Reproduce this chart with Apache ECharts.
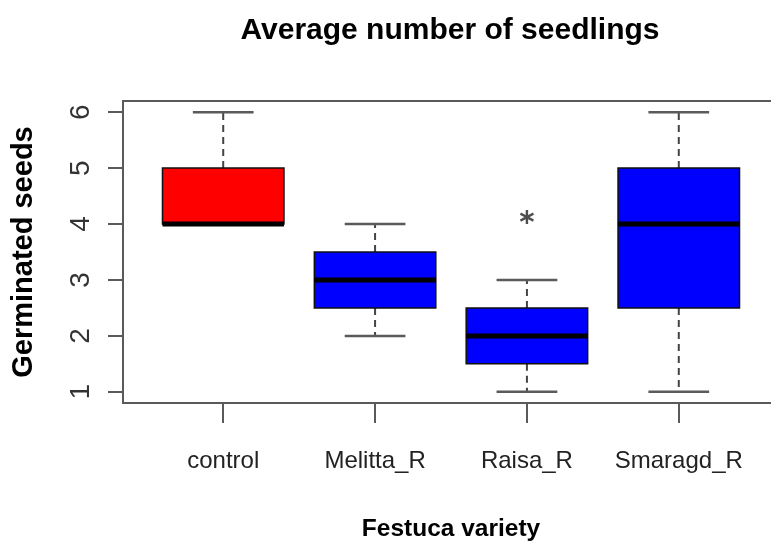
<!DOCTYPE html>
<html>
<head>
<meta charset="utf-8">
<script src="https://cdn.jsdelivr.net/npm/echarts@6/dist/echarts.min.js"></script>
<style>html,body{margin:0;padding:0;background:#fff;}#c{width:771px;height:544px;}</style>
</head>
<body>
<div id="c"></div>
<script>
const categories = ['control', 'Melitta_R', 'Raisa_R', 'Smaragd_R'];
const lowWhisker = [4, 2, 1, 1];
const q1 = [4, 2.5, 1.5, 2.5];
const median = [4, 3, 2, 4];
const q3 = [5, 3.5, 2.5, 5];
const highWhisker = [6, 4, 3, 6];
const outlierCategory = ['Raisa_R'];
const outlierValue = [4];
const yTicks = [1, 2, 3, 4, 5, 6];

const boxFill = ['#ff0000', '#0000ff', '#0000ff', '#0000ff'];
const frameColor = '#5a5a5a';
const regular = "'Liberation Sans', Arial, sans-serif";

const boxData = categories.map((c, i) => [i + 1, lowWhisker[i], q1[i], median[i], q3[i], highWhisker[i]]);
const outData = outlierCategory.map((c, i) => [categories.indexOf(c) + 1, outlierValue[i]]);

const chart = echarts.init(document.getElementById('c'));
chart.setOption({
  animation: false,
  backgroundColor: '#fff',
  title: {
    text: 'Average number of seedlings',
    left: 445, top: 11, textAlign: 'center',
    textStyle: { fontFamily: regular, fontWeight: 'bold', fontSize: 30, color: '#000' }
  },
  grid: {
    left: 123, top: 101, width: 656, height: 302,
    outerBoundsMode: 'none', containLabel: false,
    show: true, borderColor: frameColor, borderWidth: 2, backgroundColor: 'transparent'
  },
  xAxis: {
    type: 'value', min: 0.34, max: 4.66,
    name: 'Festuca variety', nameLocation: 'middle', nameGap: 114,
    nameTextStyle: { fontFamily: regular, fontWeight: 'bold', fontSize: 24.5, color: '#000' },
    axisLine: { show: false },
    splitLine: { show: false },
    axisTick: { show: true, length: 20, lineStyle: { color: frameColor, width: 2 }, customValues: [1, 2, 3, 4] },
    axisLabel: {
      customValues: [1, 2, 3, 4], margin: 46,
      fontFamily: regular, fontSize: 24, color: '#222',
      formatter: v => categories[Math.round(v) - 1] || ''
    }
  },
  yAxis: {
    type: 'value', min: 0.8, max: 6.2,
    name: 'Germinated seeds', nameLocation: 'middle', nameGap: 85, nameRotate: 90,
    nameTextStyle: { fontFamily: regular, fontWeight: 'bold', fontSize: 29, color: '#000' },
    axisLine: { show: false },
    splitLine: { show: false },
    axisTick: { show: true, length: 15, lineStyle: { color: frameColor, width: 2 }, customValues: yTicks },
    axisLabel: {
      customValues: yTicks, rotate: 90, margin: 28,
      fontFamily: regular, fontSize: 28, color: '#333'
    }
  },
  series: [
    {
      type: 'custom',
      clip: false,
      data: boxData,
      renderItem: function (params, api) {
        const x = api.value(0);
        const lo = api.coord([x, api.value(1)]);
        const b1 = api.coord([x, api.value(2)]);
        const md = api.coord([x, api.value(3)]);
        const b3 = api.coord([x, api.value(4)]);
        const hi = api.coord([x, api.value(5)]);
        const bw = api.size([0.8, 0])[0];
        const sw = api.size([0.4, 0])[0];
        const cx = lo[0];
        const wStyle = { stroke: '#444', lineWidth: 2, lineDash: [7, 5] };
        const sStyle = { stroke: frameColor, lineWidth: 2.5 };
        return {
          type: 'group',
          children: [
            { type: 'line', shape: { x1: cx, y1: b3[1], x2: cx, y2: hi[1] }, style: wStyle },
            { type: 'line', shape: { x1: cx, y1: b1[1], x2: cx, y2: lo[1] }, style: wStyle },
            { type: 'line', shape: { x1: cx - sw / 2, y1: hi[1], x2: cx + sw / 2, y2: hi[1] }, style: sStyle },
            { type: 'line', shape: { x1: cx - sw / 2, y1: lo[1], x2: cx + sw / 2, y2: lo[1] }, style: sStyle },
            { type: 'rect', shape: { x: cx - bw / 2, y: b3[1], width: bw, height: b1[1] - b3[1] },
              style: { fill: boxFill[params.dataIndex], stroke: '#111', lineWidth: 1.5 } },
            { type: 'line', shape: { x1: cx - bw / 2, y1: md[1], x2: cx + bw / 2, y2: md[1] },
              style: { stroke: '#000', lineWidth: 5 } }
          ]
        };
      }
    },
    {
      type: 'scatter',
      data: outData,
      symbol: 'path://M0,-1L0,1M-0.866,-0.5L0.866,0.5M-0.866,0.5L0.866,-0.5',
      symbolSize: [13, 14],
      symbolOffset: [0, -7],
      itemStyle: { color: 'none', borderColor: '#222', borderWidth: 2.5 }
    }
  ]
});
</script>
</body>
</html>
